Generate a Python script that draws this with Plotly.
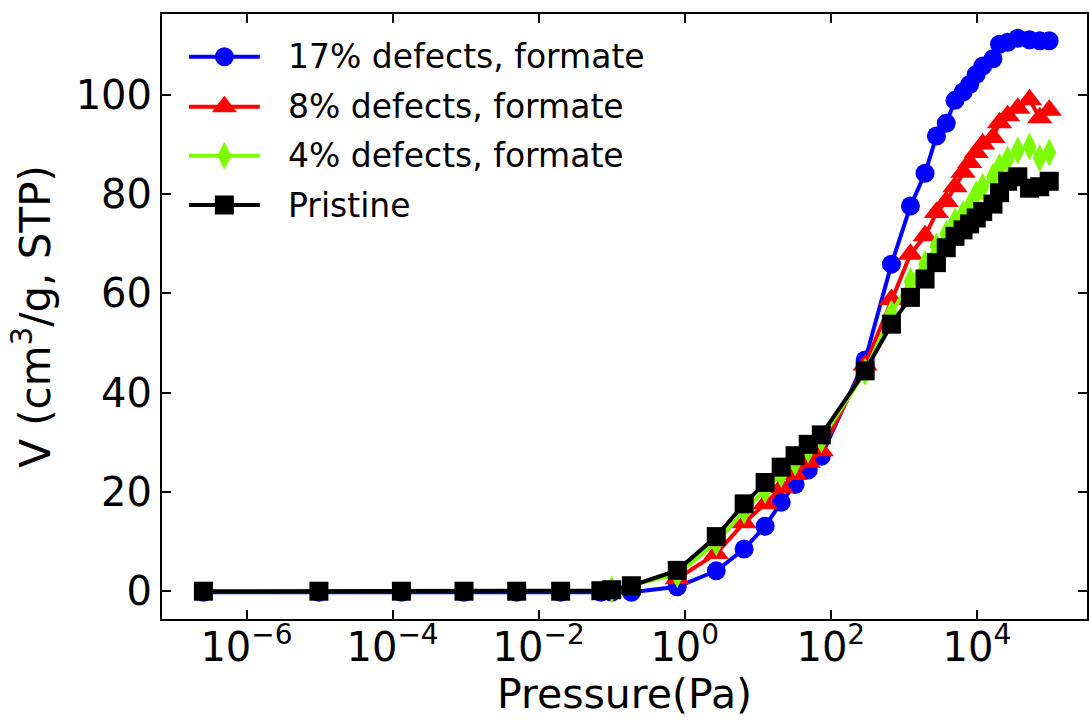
import plotly.graph_objects as go

# Pressure (Pa) sampling points
pressure = [2.57e-7, 9.8e-6, 1.32e-4, 9.5e-4, 5.0e-3, 2.0e-2, 7.1e-2, 0.10, 0.186,
            0.79, 2.7, 6.5, 12.6, 20.9, 32.4, 49, 74, 295, 676,
            1230, 1950, 2790, 3800, 5010, 6460, 7940, 9770, 12000, 16600,
            20400, 26300, 36300, 52500, 72400, 97700]

# the 8% series: first visible point near 0.8 Pa
pressure_8 = [0.79, 2.7, 6.5, 12.6, 20.9, 32.4, 49, 74, 295, 676,
              1230, 1950, 2790, 3800, 5010, 6460, 7940, 9770, 12000, 16600,
              20400, 26300, 36300, 52500, 72400, 97700]

# the 4% series starts at 0.1 Pa
pressure_4 = [0.10,
              0.79, 2.7, 6.5, 12.6, 20.9, 32.4, 49, 74, 295, 676,
              1230, 1950, 2790, 3800, 5010, 6460, 7940, 9770, 12000, 16600,
              20400, 26300, 36300, 52500, 72400, 97700]

v_17 = [-0.2, -0.2, -0.2, -0.2, -0.2, -0.2, -0.2, -0.2, -0.2,
        0.9, 4.1, 8.5, 13.1, 17.9, 21.5, 24.4, 27.2, 46.6, 65.9,
        77.6, 84.2, 91.7, 94.3, 98.9, 100.6, 102.1, 104.1, 105.8, 107.3,
        110.2, 110.6, 111.4, 111.1, 110.9, 110.9]

v_8 = [2.5, 7.6, 13.8, 17.6, 20.9, 23.5, 26.0, 28.3, 45.6, 58.8,
       67.9, 71.6, 76.3, 78.5, 81.5, 84.4, 86.4, 88.4, 90.1, 91.4,
       94.4, 95.8, 97.3, 99.0, 95.4, 96.9]

v_4 = [0.4,
       3.4, 9.8, 16.2, 20.4, 23.6, 26.0, 28.6, 30.6, 44.2, 56.0,
       62.5, 66.0, 69.5, 72.0, 74.5, 76.0, 77.5, 80.0, 81.5, 83.5,
       85.5, 87.0, 88.8, 89.6, 87.3, 88.4]

v_pristine = [0, 0, 0, 0, 0, 0, 0.1, 0.3, 1.1,
              4.2, 11.0, 17.6, 21.9, 25.0, 27.3, 29.6, 31.5, 44.4, 53.8,
              59.2, 62.9, 66.2, 69.2, 71.5, 72.8, 74.0, 75.2, 76.5, 78.0,
              80.3, 82.6, 83.5, 81.2, 81.5, 82.6]

x_tickvals = [1e-6, 1e-4, 1e-2, 1, 1e2, 1e4]
x_ticktext = ["10<sup>\u22126</sup>", "10<sup>\u22124</sup>", "10<sup>\u22122</sup>",
              "10<sup>0</sup>", "10<sup>2</sup>", "10<sup>4</sup>"]
y_tickvals = [0, 20, 40, 60, 80, 100]

names = ["17% defects, formate", "8% defects, formate", "4% defects, formate", "Pristine"]
colors = ["#0000ff", "#ff0000", "#7cfc00", "#000000"]
symbols = ["circle", "triangle-up", "diamond-tall", "square"]
sizes = [19, 22, 20, 19]
xs = [pressure, pressure_8, pressure_4, pressure]
series = [v_17, v_8, v_4, v_pristine]

FONT = "DejaVu Sans"
fig = go.Figure()

for name, col, sym, sz, xv, vals in zip(names, colors, symbols, sizes, xs, series):
    fig.add_trace(go.Scatter(
        x=xv, y=vals, mode="lines+markers", name=name,
        line=dict(color=col, width=4),
        marker=dict(symbol=sym, size=sz, color=col, line=dict(width=0)),
        showlegend=False))

# custom legend (pixel-like overlay axes)
rows = [56.7, 106.7, 155.7, 205.0]
for name, col, sym, sz, yy in zip(names, colors, symbols, sizes, rows):
    fig.add_trace(go.Scatter(x=[189, 260], y=[yy, yy], mode="lines",
                             line=dict(color=col, width=4), xaxis="x2", yaxis="y2",
                             showlegend=False, hoverinfo="skip"))
    fig.add_trace(go.Scatter(x=[224.5], y=[yy], mode="markers",
                             marker=dict(symbol=sym, size=sz, color=col, line=dict(width=0)),
                             xaxis="x2", yaxis="y2", showlegend=False, hoverinfo="skip"))
    fig.add_annotation(x=286, y=yy, xref="x2", yref="y2", text=name, showarrow=False,
                       xanchor="left", yanchor="middle",
                       font=dict(family=FONT, size=33, color="black"))

fig.update_layout(
    width=1089, height=721,
    margin=dict(l=162, r=0, t=14, b=102, pad=0),
    paper_bgcolor="white", plot_bgcolor="white",
    font=dict(family=FONT, size=40, color="black"),
    showlegend=False,
    xaxis=dict(type="log", range=[-7.157, 5.507], tickmode="array",
               tickvals=x_tickvals, ticktext=x_ticktext,
               showgrid=False, zeroline=False,
               showline=True, linecolor="black", linewidth=2, mirror="ticks",
               ticks="inside", ticklen=9, tickwidth=2, tickcolor="black",
               ticklabelstandoff=-8,
               tickfont=dict(family=FONT, size=40, color="black"),
               title=dict(text="Pressure(Pa)", font=dict(family=FONT, size=41), standoff=0)),
    yaxis=dict(range=[-5.6, 116.3], tickmode="array", tickvals=y_tickvals,
               showgrid=False, zeroline=False,
               showline=True, linecolor="black", linewidth=2, mirror="ticks",
               ticks="inside", ticklen=9, tickwidth=2, tickcolor="black",
               tickfont=dict(family=FONT, size=40, color="black"),
               title=dict(text="V (cm<sup>3</sup>/g, STP)", font=dict(family=FONT, size=42), standoff=12)),
    xaxis2=dict(overlaying="x", anchor="y2", range=[162, 1089], visible=False),
    yaxis2=dict(overlaying="y", anchor="x2", range=[619, 14], visible=False),
)

fig.write_html("out.html")
